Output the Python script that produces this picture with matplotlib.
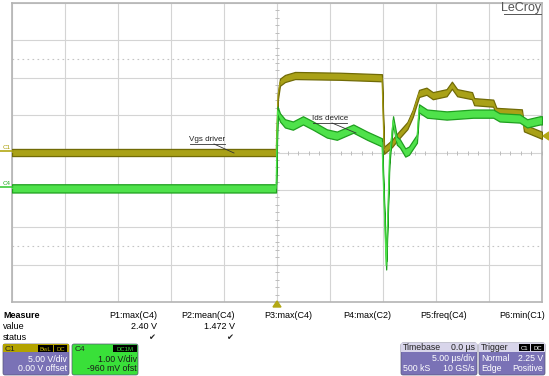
import numpy as np
import matplotlib
matplotlib.use("Agg")
import matplotlib.pyplot as plt
from matplotlib.patches import Rectangle, FancyBboxPatch, Polygon

plt.rcParams['font.family'] = ['Liberation Sans', 'DejaVu Sans']

# scope settings
time_per_div = 5.0          # us/div
c1_volts_per_div = 5.0
c4_volts_per_div = 1.0
c4_offset = -0.96

# C1 - Vgs driver (time us, volts)
vgs_t = [-25, -0.09, 0.09, 0.28, 0.75, 1.7, 5.9, 9.9, 10.1, 10.85, 11.3, 12.3, 12.8,
         13.4, 14.1, 14.7, 16.0, 16.5, 17.0, 18.4, 18.6, 20.4, 20.7, 23.1, 23.3, 25]
vgs_v = [0.0, 0.0, 7.6, 9.4, 9.9, 10.3, 10.2, 10.0, 0.3, 1.2, 2.0, 3.6, 5.2,
         7.9, 8.2, 7.6, 8.0, 9.0, 8.0, 7.6, 6.8, 6.6, 5.5, 5.3, 3.3, 2.3]

# C4 - Ids device (time us, volts)
ids_t = [-25, -0.09, 0.05, 0.28, 0.75, 1.5, 2.45, 3.4, 4.7, 5.65, 7.2, 8.5, 9.9, 10.3,
         10.6, 10.95, 11.3, 11.6, 12.1, 12.45, 13.2, 13.4, 14.15, 16.0, 18.5, 20.4,
         21.0, 22.9, 23.6, 24.8, 25]
ids_v = [0.0, 0.0, 2.08, 1.90, 1.74, 1.68, 1.82, 1.68, 1.47, 1.41, 1.60, 1.41, 1.23, -2.06,
         0.75, 1.82, 1.28, 1.20, 0.96, 1.01, 1.33, 2.14, 2.0, 1.95, 2.0, 2.0,
         1.9, 1.87, 1.74, 1.82, 1.82]

measure_names = ['P1:max(C4)', 'P2:mean(C4)', 'P3:max(C4)', 'P4:max(C2)', 'P5:freq(C4)', 'P6:min(C1)']
measure_values = ['2.40 V', '1.472 V', '', '', '', '']
measure_status = [True, True, False, False, False, False]

W, H = 549, 376
fig = plt.figure(figsize=(W / 100, H / 100), dpi=100)
fig.patch.set_facecolor('white')

ax = fig.add_axes([12 / W, (H - 302) / H, 530 / W, 299 / H])
ax.set_xlim(-5 * time_per_div, 5 * time_per_div)
ax.set_ylim(-4, 4)
ax.set_xticks(np.arange(-25, 26, 5))
ax.set_yticks(np.arange(-4, 5, 1))
ax.tick_params(length=0, labelbottom=False, labelleft=False)
ax.grid(True, color='#d4d4d4', lw=0.8)
for s in ax.spines.values():
    s.set_color('#b4b4b4')
    s.set_linewidth(1.2)

# dotted reference levels
for lv in (2.5, -2.5):
    ax.axhline(lv, color='#c4c4c4', lw=0.8, ls=(0, (1.5, 3)))

# minor ticks on the centre lines
mx = np.arange(-25, 25.01, 1.0)
ax.plot(mx, np.zeros_like(mx), ls='none', marker='|', ms=3, color='#bdbdbd', mew=0.7)
my = np.arange(-4, 4.01, 0.2)
ax.plot(np.zeros_like(my), my, ls='none', marker='_', ms=3, color='#bdbdbd', mew=0.7)

vgs_div = np.array(vgs_v) / c1_volts_per_div
ids_div = (np.array(ids_v) + c4_offset) / c4_volts_per_div

# traces drawn as bands of constant vertical thickness (the noise envelope)
half_y = 0.095
half_g = 0.11
ax.fill_between(vgs_t, vgs_div - half_y, vgs_div + half_y, fc='#a9a117', ec='#716b06',
                lw=0.9, zorder=3)
ax.plot(vgs_t, vgs_div, color='#a9a117', lw=0.7, zorder=3)
ax.fill_between(ids_t, ids_div - half_g, ids_div + half_g, fc='#4fe24b', ec='#1f9f1f',
                lw=0.9, zorder=4)
ax.plot(ids_t, ids_div, color='#4fe24b', lw=0.8, zorder=4)

# overlay in pixel coordinates
ov = fig.add_axes([0, 0, 1, 1], zorder=10)
ov.set_xlim(0, W)
ov.set_ylim(H, 0)
ov.axis('off')
ov.patch.set_alpha(0)

# trace labels
ov.text(207, 141, 'Vgs driver', fontsize=5.8, ha='center', va='baseline', color='#222222')
ov.plot([190, 225], [143.5, 143.5], color='#333333', lw=0.6)
ov.plot([214, 234], [144, 153], color='#333333', lw=0.6)
ov.text(330, 120, 'Ids device', fontsize=5.8, ha='center', va='baseline', color='#222222')
ov.plot([313, 347], [122.5, 122.5], color='#333333', lw=0.6)
ov.plot([332, 356], [123, 133], color='#333333', lw=0.6)

ov.text(541, 11.5, 'LeCroy', fontsize=9, ha='right', va='baseline', color='#555555')
ov.plot([504, 541], [13.5, 13.5], color='#555555', lw=0.7)

# channel markers
ov.text(3, 149, 'C1', fontsize=4.5, color='#a89c00', va='baseline')
ov.plot([0, 12], [150.5, 150.5], color='#b3a814', lw=1.2)
ov.text(3, 185, 'C4', fontsize=4.5, color='#22aa22', va='baseline')
ov.plot([0, 12], [186.5, 186.5], color='#3ccc3c', lw=1.2)
ov.add_patch(Polygon([[273, 307], [281, 307], [277, 301]], closed=True, color='#b3a814'))
ov.add_patch(Polygon([[549, 132], [549, 140], [543, 136]], closed=True, color='#b3a814'))

# measure table
ov.text(3, 318, 'Measure', fontsize=6.5, fontweight='bold', va='baseline')
ov.text(3, 329, 'value', fontsize=6.5, va='baseline')
ov.text(3, 340, 'status', fontsize=6.5, va='baseline')
name_right = [157, 235, 312, 391, 467, 545]
for nm, r, val, st in zip(measure_names, name_right, measure_values, measure_status):
    ov.text(r, 318, nm, fontsize=6.5, ha='right', va='baseline')
    if val:
        ov.text(r, 329, val, fontsize=6.5, ha='right', va='baseline')
    if st:
        ov.text(r - 2, 340, '\u2714', fontsize=6, ha='right', va='baseline', color='#222222')

purple = '#7a72b6'
def box(x0, y0, w, h, color):
    ov.add_patch(FancyBboxPatch((x0, y0), w, h, boxstyle='round,pad=0,rounding_size=2',
                                fc=color, ec='#555577', lw=0.5))

def tag(x0, y0, w, txt, fc='black', tc='white'):
    ov.add_patch(Rectangle((x0, y0), w, 7, fc=fc, ec='none'))
    ov.text(x0 + w / 2, y0 + 6, txt, fontsize=4.3, ha='center', va='baseline', color=tc)

# C1 box
box(3, 344, 66, 31, purple)
ov.add_patch(Rectangle((3.3, 344.3), 65.4, 8, fc='#b3a300', ec='none'))
ov.text(5, 351, 'C1', fontsize=6, va='baseline', color='#222222')
tag(38, 344.8, 15, 'BwL', tc='#c8b800')
tag(54, 344.8, 13, 'DC', tc='#c8b800')
ov.text(67, 362, '5.00 V/div', fontsize=6.3, ha='right', va='baseline', color='white')
ov.text(67, 371, '0.00 V offset', fontsize=6.3, ha='right', va='baseline', color='white')

# C4 box
box(72, 344, 66, 31, '#39e039')
ov.text(75, 351, 'C4', fontsize=6, va='baseline', color='#222222')
tag(113, 344.8, 24, 'DC1M', tc='#39e039')
ov.text(137, 362, '1.00 V/div', fontsize=6.3, ha='right', va='baseline', color='#1a1a1a')
ov.text(137, 371, '-960 mV ofst', fontsize=6.3, ha='right', va='baseline', color='#1a1a1a')

# Timebase box
box(401, 343, 76, 32, purple)
ov.add_patch(Rectangle((401.3, 343.3), 75.4, 8.5, fc='#d8d5ea', ec='none'))
ov.text(403, 350.5, 'Timebase', fontsize=6.3, va='baseline', color='#222222')
ov.text(475, 350.5, '0.0 \u00b5s', fontsize=6.3, ha='right', va='baseline', color='#222222')
ov.text(475, 361, '5.00 \u00b5s/div', fontsize=6.3, ha='right', va='baseline', color='white')
ov.text(403, 371, '500 kS', fontsize=6.3, va='baseline', color='white')
ov.text(475, 371, '10 GS/s', fontsize=6.3, ha='right', va='baseline', color='white')

# Trigger box
box(479, 343, 66, 32, purple)
ov.add_patch(Rectangle((479.3, 343.3), 65.4, 8.5, fc='#d8d5ea', ec='none'))
ov.text(481, 350.5, 'Trigger', fontsize=6.3, va='baseline', color='#222222')
tag(519, 344.3, 11, 'C1')
tag(531, 344.3, 13, 'DC')
ov.text(481, 361, 'Normal', fontsize=6.3, va='baseline', color='white')
ov.text(543, 361, '2.25 V', fontsize=6.3, ha='right', va='baseline', color='white')
ov.text(481, 371, 'Edge', fontsize=6.3, va='baseline', color='white')
ov.text(543, 371, 'Positive', fontsize=6.3, ha='right', va='baseline', color='white')

fig.savefig('out.png', dpi=100)
